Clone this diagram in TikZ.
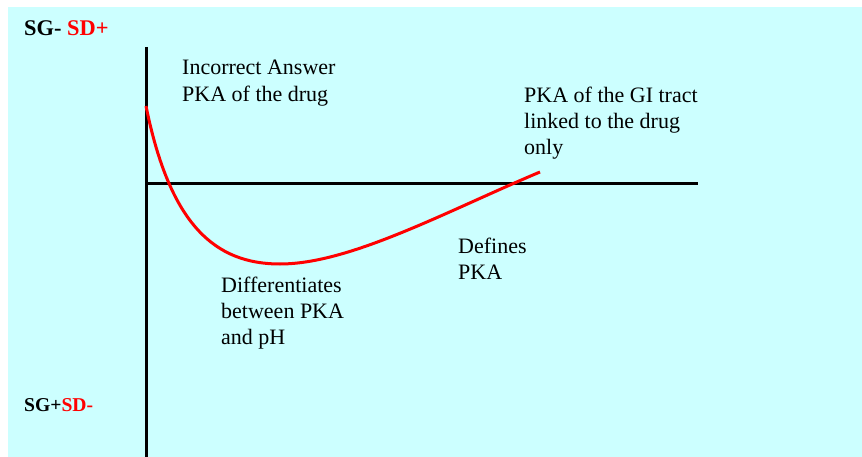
\documentclass[tikz,border=0pt]{standalone}
\usepackage{fontspec}
\setmainfont{Liberation Serif}
\newfontfamily\labelfont{Liberation Serif}
\definecolor{bgcyan}{RGB}{204,255,255}
\begin{document}
\begin{tikzpicture}[x=1pt,y=-1pt,
  lbl/.style={anchor=north west,inner sep=0pt,align=left,font=\labelfont\fontsize{22}{26.3}\selectfont},
  side/.style={anchor=base west,inner sep=0pt,font=\labelfont\fontsize{22.4}{26}\selectfont\bfseries},
  sidesmall/.style={side,font=\labelfont\fontsize{19.6}{23}\selectfont\bfseries},
  axis/.style={line width=3pt,black},
  curve/.style={line width=3pt,red}]
\useasboundingbox (0,0) rectangle (862,457);
\fill[bgcyan] (8,7) rectangle (862,457);
% axes
\coordinate (ytop) at (146,47);
\coordinate (ybot) at (146,457);
\coordinate (origin) at (146,184);
\coordinate (xend) at (698,184);
\draw[axis] (ytop) -- (ybot);
\draw[axis] (origin) -- (xend);
% curve
\coordinate (c0) at (146,106);
\coordinate (cmin) at (280,264);
\coordinate (c1) at (540,172);
\draw[curve] (c0) .. controls (170,225) and (215,264) .. (cmin)
  .. controls (350,264) and (445,212) .. (c1);
% side labels
\node[side] (top) at (24,36) {SG- \textcolor{red}{SD+}};
\node[sidesmall] (bottom) at (24,411.7) {SG+\textcolor{red}{SD-}};
% text labels
\node[lbl] (wrong) at (182,60) {Incorrect Answer\\PKA of the drug};
\node[lbl] (diff) at (221,276.5) {Differentiates\\between PKA\\and pH};
\node[lbl] (def) at (458,238) {Defines\\PKA};
\node[lbl] (gi) at (524,86.5) {PKA of the GI tract\\linked to the drug\\only};
\end{tikzpicture}
\end{document}
